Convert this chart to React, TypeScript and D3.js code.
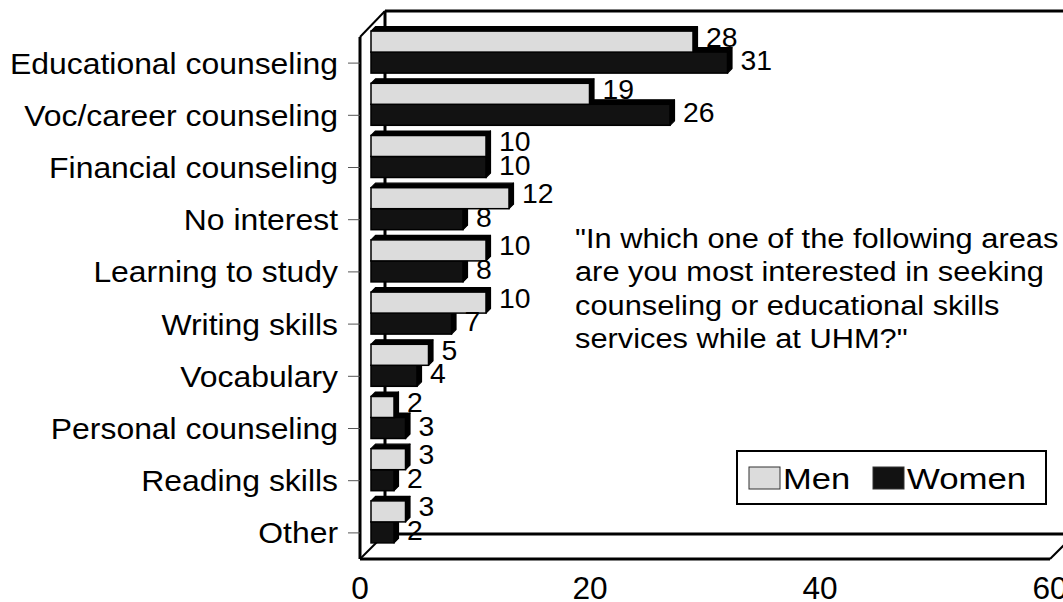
import React from "react";
import * as d3 from "d3";

const categories = [
  "Educational counseling",
  "Voc/career counseling",
  "Financial counseling",
  "No interest",
  "Learning to study",
  "Writing skills",
  "Vocabulary",
  "Personal counseling",
  "Reading skills",
  "Other",
];
const men = [28, 19, 10, 12, 10, 10, 5, 2, 3, 3];
const women = [31, 26, 10, 8, 8, 7, 4, 3, 2, 2];
const xTicks = [0, 20, 40, 60];
const seriesNames = ["Men", "Women"];
const questionLines = [
  '"In which one of the following areas',
  "are you most interested in seeking",
  "counseling or educational skills",
  'services while at UHM?"',
];

const W = 1063;
const H = 602;
const FONT = "'Liberation Sans', Arial, Helvetica, sans-serif";
const MEN_FILL = "#dcdcdc";
const WOMEN_FILL = "#121212";

export default function App() {
  const frontX0 = 360;
  const frontTop = 37;
  const frontBottom = 559;
  const bdx = 25;
  const bdy = 25;
  const x = d3.scaleLinear().domain([0, 60]).range([0, 690]);
  const y = d3.scaleBand<string>().domain(categories).range([frontTop, frontBottom]);
  const yc = (c: string) => (y(c) as number) + y.bandwidth() / 2;
  const barShift = 11;
  const barH = 21;
  const d = 4.5;
  const fx = (v: number) => frontX0 + x(v);
  const bx0 = frontX0 + barShift;

  const bar = (v: number, top: number, fill: string, key: string) => {
    const w = x(v);
    const x0 = bx0;
    const x1 = x0 + w;
    const topFace = `M${x0},${top} L${x0 + d},${top - d} L${x1 + d},${top - d} L${x1},${top} Z`;
    const sideFace = `M${x1},${top} L${x1 + d},${top - d} L${x1 + d},${top + barH - d} L${x1},${top + barH} Z`;
    return (
      <g key={key}>
        <path d={topFace} fill="#000" stroke="#000" strokeWidth={1.2} strokeLinejoin="round" />
        <path d={sideFace} fill="#000" stroke="#000" strokeWidth={1.2} strokeLinejoin="round" />
        <rect x={x0} y={top} width={w} height={barH} fill={fill} stroke="#000" strokeWidth={1.5} />
      </g>
    );
  };

  const stext = (
    key: string,
    tx: number,
    ty: number,
    s: string,
    size: number,
    sx: number,
    anchor: "start" | "middle" | "end" = "start"
  ) => (
    <text
      key={key}
      transform={`translate(${tx},${ty}) scale(${sx},1)`}
      fontSize={size}
      fontFamily={FONT}
      textAnchor={anchor}
      fill="#000"
    >
      {s}
    </text>
  );

  const backX0 = frontX0 + bdx;
  const backTop = frontTop - bdy - 1;
  const backBottom = frontBottom - bdy;
  const xEnd = fx(60);

  return (
    <svg
      width={W}
      height={H}
      style={{ position: "absolute", left: 0, top: 0, background: "#fff" }}
    >
      <rect x={0} y={0} width={W} height={H} fill="#fff" />
      {/* back wall */}
      <line x1={backX0} y1={backTop} x2={W + 10} y2={backTop} stroke="#000" strokeWidth={3} />
      <line x1={backX0} y1={backTop} x2={backX0} y2={backBottom} stroke="#000" strokeWidth={3} />
      <line x1={backX0} y1={backBottom} x2={xEnd + bdx} y2={backBottom} stroke="#000" strokeWidth={3} />
      {/* front edges */}
      <line x1={frontX0} y1={frontTop} x2={backX0} y2={backTop} stroke="#000" strokeWidth={2} />
      <line x1={frontX0} y1={frontBottom} x2={backX0} y2={backBottom} stroke="#000" strokeWidth={2} />
      <line x1={xEnd} y1={frontBottom} x2={xEnd + bdx} y2={backBottom} stroke="#000" strokeWidth={2} />
      <line x1={frontX0} y1={frontTop} x2={frontX0} y2={frontBottom} stroke="#000" strokeWidth={3} />
      <line x1={frontX0} y1={frontBottom} x2={xEnd} y2={frontBottom} stroke="#000" strokeWidth={3} />

      {/* category ticks and labels */}
      {categories.map((c) => (
        <g key={"cat" + c}>
          <line x1={frontX0 - 12} y1={yc(c)} x2={frontX0} y2={yc(c)} stroke="#555" strokeWidth={1} />
          {stext("cl" + c, 338, yc(c) + 10.5, c, 29, 1.1, "end")}
        </g>
      ))}

      {/* bars: women first so men covers women's top face */}
      {categories.map((c, i) => {
        const center = yc(c) - barShift;
        return (
          <g key={"bars" + c}>
            {bar(women[i], center, WOMEN_FILL, "w" + c)}
            {bar(men[i], center - barH, MEN_FILL, "m" + c)}
          </g>
        );
      })}

      {/* value labels */}
      {categories.map((c, i) => (
        <g key={"vl" + c}>
          {stext("vm" + c, bx0 + x(men[i]) + 13, yc(c) - 16.5, String(men[i]), 27, 1.05)}
          {stext("vw" + c, bx0 + x(women[i]) + 13, yc(c) + 7, String(women[i]), 27, 1.05)}
        </g>
      ))}

      {/* x axis tick labels */}
      {xTicks.map((t) => stext("xt" + t, fx(t), 599, String(t), 31, 1.02, "middle"))}

      {/* question text */}
      {questionLines.map((l, i) => stext("q" + i, 575, 248 + i * 33.3, l, 28, 1.1))}

      {/* legend */}
      <rect x={737} y={451} width={309} height={53} fill="#fff" stroke="#000" strokeWidth={2} />
      <rect x={749} y={467} width={31} height={22} fill={MEN_FILL} stroke="#333" strokeWidth={1} />
      {stext("lm", 783, 489, seriesNames[0], 30, 1.15)}
      <rect x={873} y={467} width={31} height={22} fill={WOMEN_FILL} stroke="#333" strokeWidth={1} />
      {stext("lw", 907, 489, seriesNames[1], 30, 1.16)}
    </svg>
  );
}
